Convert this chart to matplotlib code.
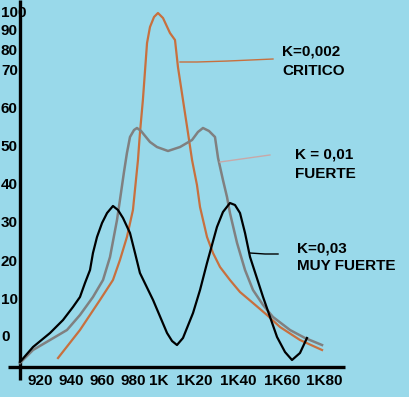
import matplotlib
matplotlib.use("Agg")
import matplotlib.pyplot as plt

# frequency (Hz, sketch scale) and relative level
f_crit = [936.5, 956.6, 974.9, 986.8, 993.2, 999.6, 1005.1, 1009.7, 1011.5, 1014.2, 1018.0,
          1020.7, 1024.4, 1028.0, 1032.6, 1039.0, 1043.6, 1046.3, 1050.9, 1055.5,
          1059.2, 1063.7, 1066.5, 1072.9, 1078.4, 1084.8, 1093.9, 1103.1, 1115.0,
          1127.8, 1139.7, 1158.0, 1178.2]
a_crit = [-5.56, 1.85, 9.79, 15.08, 20.37, 26.46, 33.60, 46.83, 53.97, 62.70, 77.78,
          82.01, 84.66, 85.71, 84.39, 80.42, 78.57, 71.43, 62.70, 53.97,
          46.83, 40.21, 34.39, 26.46, 22.22, 18.52, 15.08, 11.90, 8.99,
          5.82, 2.65, -0.79, -3.44]

f_fuerte = [901.7, 913.6, 929.2, 944.7, 956.6, 968.5, 977.7, 984.1, 990.5, 993.2,
            996.9, 999.6, 1002.4, 1006.1, 1008.8, 1012.5, 1020.7, 1027.1, 1037.2,
            1048.2, 1059.2, 1064.6, 1069.2, 1074.7, 1080.2, 1083.0, 1087.5, 1091.2,
            1093.9, 1100.4, 1107.7, 1115.0, 1124.2, 1133.3, 1148.9, 1162.6, 1178.2]
a_fuerte = [-6.88, -3.44, -0.79, 1.85, 5.82, 10.58, 15.08, 21.16, 30.95, 36.24,
            43.65, 48.68, 52.91, 54.76, 55.29, 54.50, 51.59, 50.26, 49.21,
            50.26, 52.12, 54.23, 55.29, 54.50, 52.91, 47.35, 41.53, 37.04,
            32.80, 24.87, 17.72, 12.43, 8.47, 5.29, 1.85, -0.26, -2.12]

f_muy = [901.7, 913.6, 929.2, 941.1, 950.2, 956.6, 961.2, 965.8, 968.5, 972.2,
         976.8, 981.4, 986.8, 991.4, 996.0, 1002.4, 1007.0, 1011.5, 1023.5, 1036.3,
         1040.9, 1045.4, 1050.9, 1060.1, 1066.5, 1072.9, 1082.0, 1087.5, 1093.9,
         1098.5, 1103.1, 1107.7, 1112.3, 1124.2, 1137.0, 1144.3, 1150.7, 1158.0, 1164.4]
a_muy = [-6.61, -2.65, 1.06, 4.50, 7.94, 10.58, 14.29, 17.72, 22.22, 26.46,
         30.16, 32.80, 34.66, 33.60, 31.48, 27.51, 22.22, 16.93, 9.79, 1.06,
         -1.06, -2.12, -0.26, 6.35, 12.43, 19.58, 29.10, 33.07, 35.45,
         34.92, 32.80, 27.51, 21.16, 10.58, 0.0, -3.97, -6.08, -4.23, -0.26]

x_labels = ["920", "940", "960", "980", "1K", "1K20", "1K40", "1K60", "1K80"]
x_label_pos = [920, 948.4, 976.8, 1005.1, 1028.9, 1061.0, 1101.3, 1141.5, 1180]
y_labels = ["0", "10", "20", "30", "40", "50", "60", "70", "80", "90", "100"]
y_label_pos = [0, 9.8, 19.8, 30.2, 40.2, 50.3, 60.3, 70.4, 75.7, 80.9, 85.7]

bg = "#99D9EA"
c_orange = "#C8703E"
c_gray = "#808080"

fig = plt.figure(figsize=(4.09, 3.97), dpi=100, facecolor=bg)
ax = fig.add_axes([0, 0, 1, 1])
ax.set_facecolor(bg)
ax.set_xlim(883.4, 1257.8)
ax.set_ylim(-15.87, 89.15)
ax.axis("off")

# hand drawn axes
ax.plot([902.1, 902.1], [-11.4, 89.15], color="black", lw=2.4, solid_capstyle="butt")
ax.plot([890.7, 1199.2], [-7.94, -7.94], color="black", lw=2.4, solid_capstyle="butt")

ax.plot(f_crit, a_crit, color=c_orange, lw=1.6)
ax.plot(f_fuerte, a_fuerte, color=c_gray, lw=1.8)
ax.plot(f_muy, a_muy, color="black", lw=1.6)

# leader lines
ax.plot([1048.2, 1063.8, 1091.2, 1133.3], [72.75, 72.75, 73.0, 73.54], color=c_orange, lw=1)
ax.plot([1084.8, 1130.5], [46.30, 48.15], color="#C8A8A8", lw=1)
ax.plot([1112.3, 1126.0, 1137.9], [22.22, 21.96, 21.96], color="black", lw=1)

font = dict(family="Liberation Sans", weight="bold", fontsize=11, color="black")

for lab, xp in zip(x_labels, x_label_pos):
    ax.text(xp, -11.64, lab, ha="center", va="center", **font)
for lab, yp in zip(y_labels, y_label_pos):
    ax.text(884.3, yp, lab, ha="left", va="center", **font)

ax.text(1141.5, 75.4, "K=0,002", ha="left", va="center", **font)
ax.text(1141.5, 70.37, "CRITICO", ha="left", va="center", **font)
ax.text(1153.5, 48.15, "K = 0,01", ha="left", va="center", **font)
ax.text(1153.5, 43.12, "FUERTE", ha="left", va="center", **font)
ax.text(1155.3, 23.54, "K=0,03", ha="left", va="center", **font)
ax.text(1155.3, 18.78, "MUY FUERTE", ha="left", va="center", **font)

fig.savefig("out.png", dpi=100, facecolor=bg)
